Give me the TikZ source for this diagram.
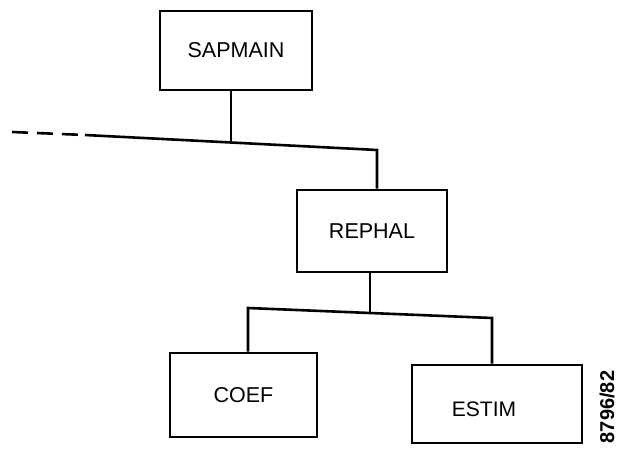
\documentclass[tikz,border=0pt]{standalone}
\usepackage{fontspec}
\setmainfont{Liberation Sans}
\begin{document}
\begin{tikzpicture}[x=1pt,y=-1pt,
  every path/.style={line width=2.6pt},
  modbox/.style={draw,rectangle,line width=2.6pt,inner sep=0pt,font=\fontsize{21.5}{25}\selectfont},
  lbl/.style={inner sep=0pt,font=\fontsize{21}{25}\selectfont}]
  \useasboundingbox (0,0) rectangle (620,457);
  % module boxes
  \node[modbox,minimum width=152pt,minimum height=79pt] (sap) at (236,50.5) {SAPMAIN};
  \node[modbox,minimum width=150pt,minimum height=82pt] (rephal) at (372,231) {REPHAL};
  \node[modbox,minimum width=147pt,minimum height=84pt] (coef) at (243.5,395) {COEF};
  \node[modbox,minimum width=170pt,minimum height=78pt] (estim) at (497,404) {};
  \node[lbl] (estimtxt) at (484,409) {ESTIM};
  % junctions of the call tree
  \coordinate (ja) at (231,142);
  \coordinate (jal) at (85,135);
  \coordinate (jar) at (377,150);
  \coordinate (jd) at (12,132);
  \coordinate (jb) at (370,312);
  \coordinate (jbl) at (248,308);
  \coordinate (jbr) at (492,318);
  % SAPMAIN -> REPHAL
  \draw (sap.south -| ja) -- (ja);
  \draw (jal) -- (jar) -- (rephal.north -| jar);
  \draw[dash pattern=on 16pt off 9pt] (jd) -- (jal);
  % REPHAL -> COEF, ESTIM
  \draw (rephal.south -| jb) -- (jb);
  \draw (coef.north -| jbl) -- (jbl) -- (jbr) -- (estim.north -| jbr);
  % figure number
  \node[inner sep=0pt,rotate=90,font=\bfseries\fontsize{20}{24}\selectfont] (fignum) at (607,407) {8796/82};
\end{tikzpicture}
\end{document}
